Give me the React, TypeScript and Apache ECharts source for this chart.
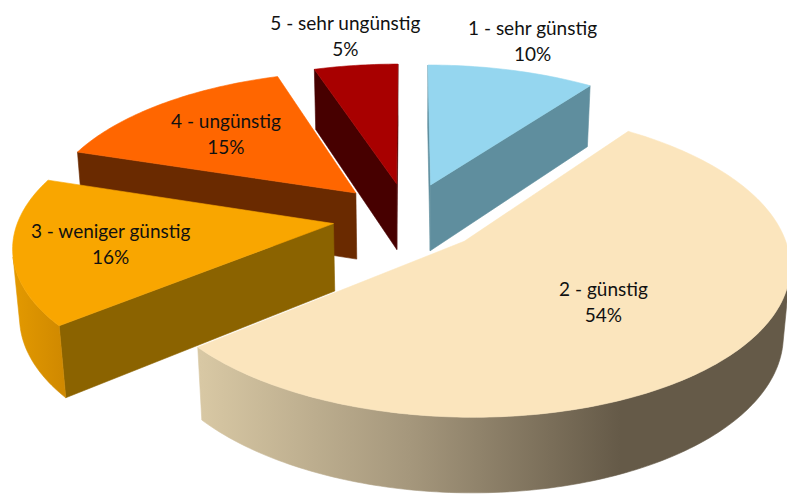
import { useEffect, useRef } from "react";
import * as echarts from "echarts";

// ---- data ----
const categories = [
  "1 - sehr günstig",
  "2 - günstig",
  "3 - weniger günstig",
  "4 - ungünstig",
  "5 - sehr ungünstig",
];
const values = [10, 54, 16, 15, 5];

// ---- styles ----
const topColors = ["#95D6EF", "#FBE5BD", "#F9A600", "#FF6600", "#A80000"];
const radialWallColors = ["#5F8E9E", "#A2947A", "#8B6300", "#6A2A00", "#470000"];
const outerWallColors: any[] = [
  "#5F8E9E",
  {
    type: "linear", x: 200, y: 0, x2: 620, y2: 0, global: true,
    colorStops: [
      { offset: 0, color: "#D8C8A4" },
      { offset: 0.5, color: "#A5977C" },
      { offset: 1, color: "#655A48" },
    ],
  },
  {
    type: "linear", x: 8, y: 0, x2: 63, y2: 0, global: true,
    colorStops: [
      { offset: 0, color: "#E59B00" },
      { offset: 1, color: "#D08900" },
    ],
  },
  "#8A3A00",
  "#600000",
];
const labelRadius = [1.3, 0.55, 0.7, 0.65, 1.3];

// ---- 3D projection parameters (pixels for a 787 wide canvas) ----
const CX = 408, CY = 217, NF = 2294, K = 7.3, SN = 0.46;
const CS = Math.sqrt(1 - SN * SN);
const TAN = SN / CS;
const EXPLODE = 0.24, THICK = 0.245;
const CAM_D = K * CS;
const CAM_Z = -CAM_D * CS;
const TAU = Math.PI * 2;

const total = values.reduce((a, b) => a + b, 0);
const starts: number[] = [];
{
  let acc = 0;
  values.forEach((v) => { starts.push(acc); acc += v; });
}

function geom(i: number) {
  const a0 = (starts[i] / total) * TAU;
  const a1 = ((starts[i] + values[i]) / total) * TAU;
  const mid = (a0 + a1) / 2;
  return { a0, a1, mid, ox: EXPLODE * Math.sin(mid), oz: EXPLODE * Math.cos(mid) };
}

// painter order: far slices first
const order = values
  .map((_, i) => {
    const g = geom(i);
    const half = (g.a1 - g.a0) / 2;
    const d = (2 * Math.sin(half)) / (3 * half);
    return { i, z: g.oz + d * Math.cos(g.mid) };
  })
  .sort((a, b) => b.z - a.z)
  .map((o) => o.i);

function project(X: number, Y: number, Z: number, s: number) {
  const den = K + Z - Y * TAN;
  return [(CX + (NF * X) / den) * s, (CY - (NF * (Z * SN + Y * CS)) / den) * s];
}

export default function App() {
  const ref = useRef<HTMLDivElement>(null);
  useEffect(() => {
    document.body.style.margin = "0";
    const chart = echarts.init(ref.current!, null, { renderer: "svg" });
    chart.setOption({
      animation: false,
      backgroundColor: "#ffffff",
      series: [
        {
          type: "custom",
          coordinateSystem: "none",
          silent: true,
          data: values.map((v, i) => ({ value: v, name: categories[i] })),
          renderItem: (params: any, api: any) => {
            const i = params.dataIndex;
            const s = api.getWidth() / 787;
            const { a0, a1, mid, ox, oz } = geom(i);
            const rank = order.indexOf(i);
            const P = (r: number, th: number, Y: number) =>
              project(ox + r * Math.sin(th), Y, oz + r * Math.cos(th), s);
            const children: any[] = [];
            const base = rank * 10;

            // radial walls
            const radial = (a: number, nx: number, nz: number) => {
              if (nx * -ox + nz * (CAM_Z - oz) <= 0) return;
              children.push({
                type: "polygon",
                shape: { points: [P(0, a, 0), P(1, a, 0), P(1, a, -THICK), P(0, a, -THICK)] },
                style: { fill: radialWallColors[i], stroke: radialWallColors[i], lineWidth: 0.6 },
                z2: base + 1,
              });
            };
            radial(a0, -Math.cos(a0), Math.sin(a0));
            radial(a1, Math.cos(a1), -Math.sin(a1));

            // outer wall
            const steps = Math.max(2, Math.ceil((a1 - a0) / (Math.PI / 180)));
            let run: number[] = [];
            const flush = () => {
              if (run.length >= 2) {
                const top = run.map((th) => P(1, th, 0));
                const bot = run.slice().reverse().map((th) => P(1, th, -THICK));
                children.push({
                  type: "polygon",
                  shape: { points: top.concat(bot) },
                  style: { fill: outerWallColors[i], stroke: outerWallColors[i], lineWidth: 0.6 },
                  z2: base + 2,
                });
              }
              run = [];
            };
            for (let k = 0; k <= steps; k++) {
              const th = a0 + ((a1 - a0) * k) / steps;
              const dot = -1 - ox * Math.sin(th) + Math.cos(th) * (CAM_Z - oz);
              if (dot > -0.02) run.push(th);
              else flush();
            }
            flush();

            // top face
            const topPts: number[][] = [P(0, 0, 0)];
            for (let k = 0; k <= steps; k++) {
              topPts.push(P(1, a0 + ((a1 - a0) * k) / steps, 0));
            }
            children.push({
              type: "polygon",
              shape: { points: topPts },
              style: { fill: topColors[i], stroke: topColors[i], lineWidth: 0.6 },
              z2: base + 3,
            });

            // label
            const lp = P(labelRadius[i], mid, 0);
            const pct = Math.round((api.value(0) / total) * 100) + "%";
            children.push({
              type: "text",
              x: lp[0],
              y: lp[1],
              style: {
                text: categories[i] + "\n" + pct,
                fontSize: 19 * s,
                fontFamily: "Lato",
                fill: "#111111",
                align: "center",
                verticalAlign: "middle",
                textAlign: "center",
                textVerticalAlign: "middle",
                lineHeight: 26 * s,
              },
              z2: 1000,
            });

            return { type: "group", children };
          },
        },
      ],
    });
    return () => chart.dispose();
  }, []);
  return <div ref={ref} style={{ width: 787, height: 499 }} />;
}
